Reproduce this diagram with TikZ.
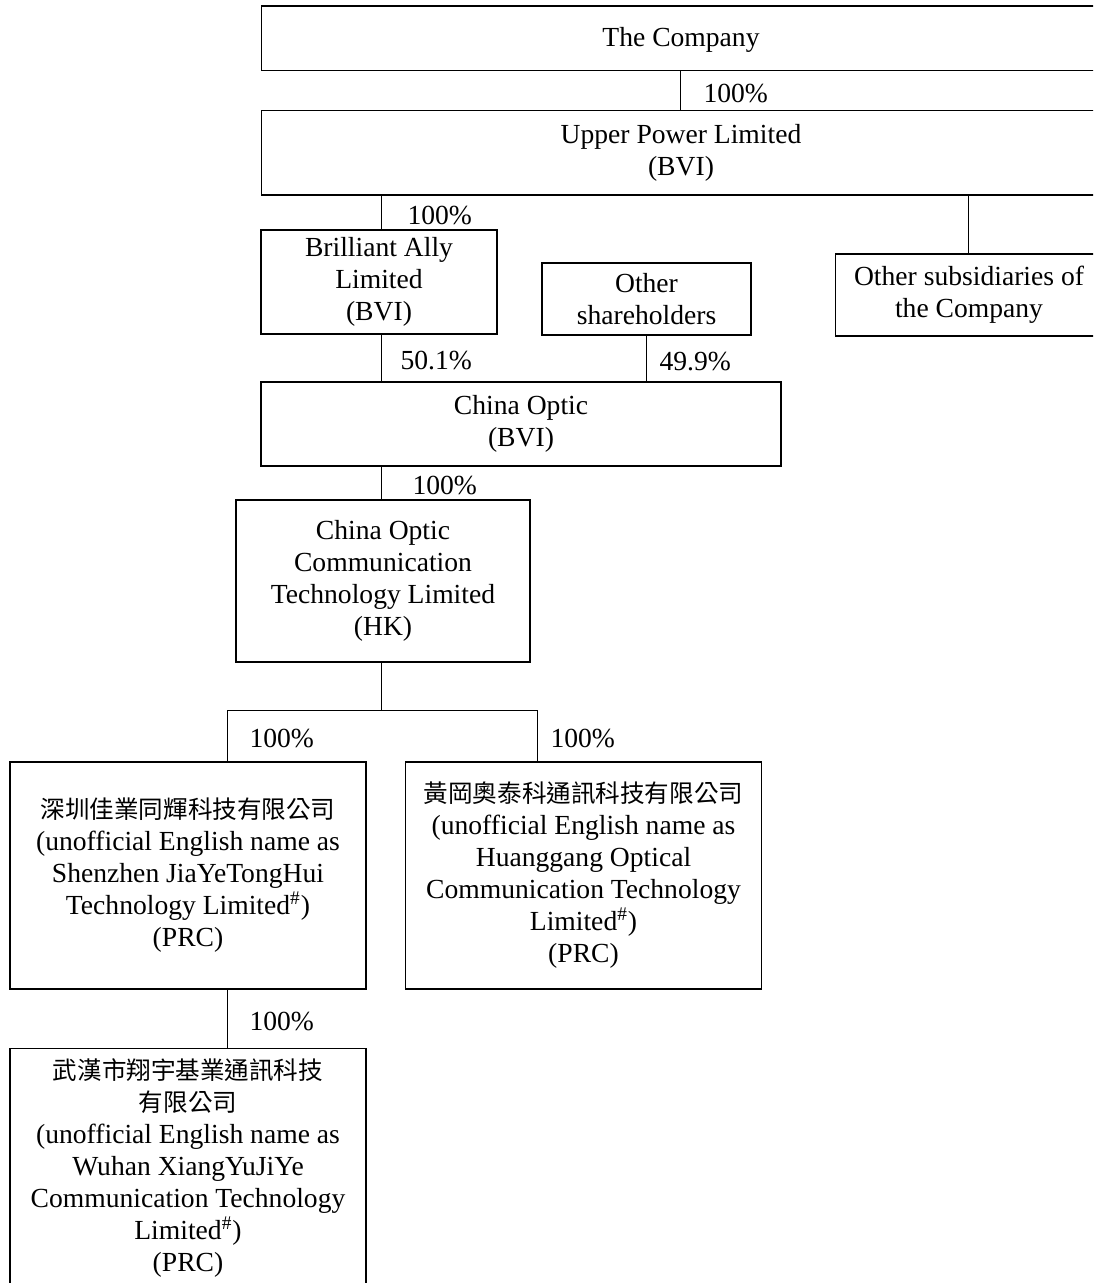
\documentclass[tikz,border=0pt]{standalone}
\usepackage{fontspec}
\setmainfont{Liberation Serif}
\newfontfamily\cjk{Noto Sans CJK TC}[Scale=0.89]
\usetikzlibrary{positioning}
\tikzset{corp box/.style={draw, line width=0.75pt, align=center, inner sep=2pt, font={\fontsize{13.8pt}{16pt}\selectfont}},
	open box/.style={corp box, draw=none},
	share/.style={anchor=west, inner sep=0pt, yshift=-1.5pt, font={\fontsize{13.8pt}{16pt}\selectfont}}}

\begin{document}
\begin{tikzpicture}[x=0.5pt, y=-0.5pt, line width=0.5pt]
	\useasboundingbox (0,0) rectangle (1093,1283);
	\clip (0,0) rectangle (1093,1283);
	\node[open box, minimum width=419pt, minimum height=31.5pt, text depth=2pt] (comp) at (681,38.5) {The Company};
	\node[open box, minimum width=419pt, minimum height=41.5pt, below=20pt of comp] (upl) {Upper Power Limited\\(BVI)};
	\node[corp box, minimum width=118pt, minimum height=52pt] (bal) at (379,282) {Brilliant Ally\\Limited\\(BVI)};
	\node[corp box, minimum width=104.5pt, minimum height=36pt] (osh) at (646.5,299) {Other\\shareholders};
	\node[open box, minimum width=133pt, minimum height=40pt] (osc) at (969,295) {Other subsidiaries of\\the Company};
	\node[corp box, minimum width=260pt, minimum height=42pt] (cob) at (521,424) {China Optic\\(BVI)};
	\node[corp box, minimum width=147pt, minimum height=81pt] (coc) at (383,581) {China Optic\\Communication\\Technology Limited\\(HK)};
	\node[corp box, minimum width=178pt, minimum height=113.5pt] (szj) at (188,875.5) {{\cjk 深圳佳業同輝科技有限公司}\\(unofficial English name as\\Shenzhen JiaYeTongHui\\Technology Limited\textsuperscript{\#})\\(PRC)};
	\node[corp box, minimum width=178pt, minimum height=113.5pt, right=19pt of szj] (hgo) {{\cjk 黃岡奧泰科通訊科技有限公司}\\(unofficial English name as\\Huanggang Optical\\Communication Technology\\Limited\textsuperscript{\#})\\(PRC)};
	\node[corp box, minimum width=178pt, minimum height=119.5pt, below=29pt of szj] (whx) {{\cjk 武漢市翔宇基業通訊科技}\\{\cjk 有限公司}\\(unofficial English name as\\Wuhan XiangYuJiYe\\Communication Technology\\Limited\textsuperscript{\#})\\(PRC)};

	% boxes cut off at the right edge
	\foreach \b in {comp, upl, osc}
		\draw[line width=0.75pt] (\b.north east) -- (\b.north west) -- (\b.south west) -- (\b.south east);

	\coordinate (hub) at (381,710);
	\coordinate (hubL) at (227,710);
	\coordinate (hubR) at (537,710);

	\draw (comp.south -| 680,0) -- node[share, xshift=11.5pt]{100\%} (upl.north -| 680,0);
	\draw (upl.south -| 381,0) -- node[share, xshift=13pt]{100\%} (bal.north -| 381,0);
	\draw (upl.south -| 968,0) -- (osc.north -| 968,0);
	\draw (bal.south -| 381,0) -- node[share, xshift=9.5pt]{50.1\%} (cob.north -| 381,0);
	\draw (osh.south -| 646,0) -- node[share, xshift=6.5pt]{49.9\%} (cob.north -| 646,0);
	\draw (cob.south -| 381,0) -- node[share, xshift=15.5pt]{100\%} (coc.north -| 381,0);
	\draw (coc.south -| hub) -- (hub);
	\draw (szj.north -| hubL) -- node[share, xshift=11pt]{100\%} (hubL) -- (hubR) -- node[share, xshift=6.5pt]{100\%} (hgo.north -| hubR);
	\draw (szj.south -| hubL) -- node[share, xshift=11pt]{100\%} (whx.north -| hubL);
\end{tikzpicture}
\end{document}
